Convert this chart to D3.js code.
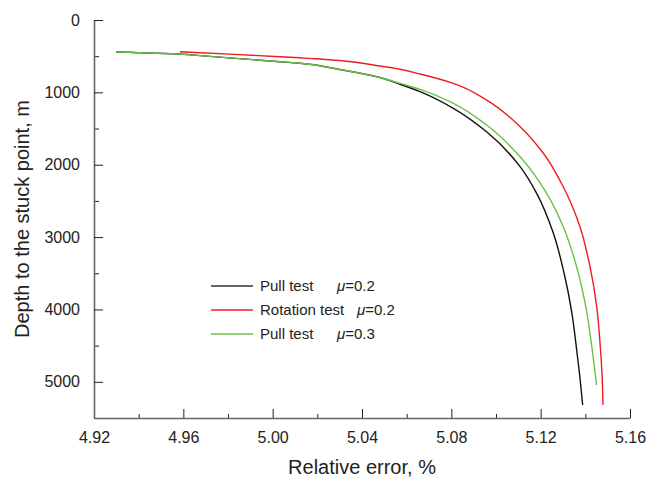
<!DOCTYPE html>
<html>
<head>
<meta charset="utf-8">
<script src="https://cdn.jsdelivr.net/npm/d3@7"></script>
<style>
  body { margin: 0; background: #fff; }
  text { font-family: "Liberation Sans", Arial, sans-serif; fill: #222; }
</style>
</head>
<body>
<div id="chart"></div>
<script>
// chart size
var w = 659;
var h = 481;

// depth (m) vs relative error (%) for each test
var pull02Err = [4.9299, 4.9585, 4.9675, 5.0033, 5.0122, 5.030, 5.048, 5.057, 5.0660, 5.0809, 5.0958, 5.1108, 5.1182, 5.1257, 5.1305, 5.1340, 5.1363, 5.1377, 5.1388];
var pull02Dep = [442, 470, 493, 576, 598, 684, 795, 888, 991, 1220, 1544, 2027, 2395, 2948, 3500, 4053, 4606, 4975, 5320];

var rot02Err = [4.9585, 4.9675, 5.0033, 5.030, 5.048, 5.057, 5.0660, 5.0809, 5.0958, 5.1108, 5.1212, 5.1301, 5.1376, 5.1421, 5.1451, 5.1467, 5.1476, 5.1479];
var rot02Dep = [438, 452, 507, 560, 636, 681, 746, 875, 1106, 1474, 1842, 2304, 2856, 3409, 3962, 4515, 4975, 5320];

var pull03Err = [4.9299, 4.9585, 4.9675, 5.0033, 5.0122, 5.030, 5.048, 5.057, 5.0660, 5.0809, 5.0958, 5.1108, 5.1227, 5.1301, 5.1361, 5.1402, 5.1429, 5.1444, 5.1450];
var pull03Dep = [442, 470, 493, 576, 598, 684, 795, 875, 958, 1151, 1451, 1889, 2395, 2856, 3409, 3962, 4515, 4880, 5044];

var seriesNames = ["Pull test", "Rotation test", "Pull test"];
var seriesMu = ["0.2", "0.2", "0.3"];
var seriesColors = ["#111111", "#ee1c25", "#6cc04a"];

var xMajor = [4.92, 4.96, 5.00, 5.04, 5.08, 5.12, 5.16];
var xMinor = [4.94, 4.98, 5.02, 5.06, 5.10, 5.14];
var yMajor = [0, 1000, 2000, 3000, 4000, 5000];
var yMinor = [500, 1500, 2500, 3500, 4500, 5500];

var svg = d3.select("#chart")
    .append("svg")
    .attr("width", w)
    .attr("height", h);

var x = d3.scaleLinear().domain([4.92, 5.16]).range([94, 630]);
var y = d3.scaleLinear().domain([0, 5500]).range([20, 418]);

// minor ticks first so the axis line sits on top
svg.append("g")
    .attr("transform", "translate(0," + y(5500) + ")")
    .call(d3.axisBottom(x).tickValues(xMinor).tickSize(-4).tickFormat(""))
    .call(function(g) { g.select(".domain").remove(); });

svg.append("g")
    .attr("transform", "translate(" + x(4.92) + ",0)")
    .call(d3.axisLeft(y).tickValues(yMinor).tickSize(-5).tickFormat(""))
    .call(function(g) { g.select(".domain").remove(); });

var xAxis = svg.append("g")
    .attr("transform", "translate(0," + y(5500) + ")")
    .call(d3.axisBottom(x).tickValues(xMajor).tickSize(-9).tickSizeOuter(0).tickPadding(14).tickFormat(d3.format(".2f")));

var yAxis = svg.append("g")
    .attr("transform", "translate(" + x(4.92) + ",0)")
    .call(d3.axisLeft(y).tickValues(yMajor).tickSize(-9).tickSizeOuter(0).tickPadding(14).tickFormat(d3.format("d")));

[xAxis, yAxis].forEach(function(g) {
    g.select(".domain").attr("stroke", "#666").attr("stroke-width", 1.6);
    g.selectAll(".tick text").style("font-size", "16px").attr("fill", "#222");
});
svg.selectAll(".tick line").attr("stroke", "#222");

// axis titles
svg.append("text")
    .attr("x", (x(4.92) + x(5.16)) / 2)
    .attr("y", 474)
    .attr("text-anchor", "middle")
    .style("font-size", "20px")
    .text("Relative error, %");

svg.append("text")
    .attr("transform", "translate(29," + (y(0) + y(5500)) / 2 + ") rotate(-90)")
    .attr("text-anchor", "middle")
    .style("font-size", "20px")
    .text("Depth to the stuck point, m");

// curves
var line = d3.line()
    .x(function(d) { return x(d[0]); })
    .y(function(d) { return y(d[1]); })
    .curve(d3.curveMonotoneY);

var curves = [
    d3.zip(pull02Err, pull02Dep),
    d3.zip(rot02Err, rot02Dep),
    d3.zip(pull03Err, pull03Dep)
];

svg.selectAll(".curve")
    .data(curves)
    .enter().append("path")
    .attr("class", "curve")
    .attr("d", line)
    .attr("fill", "none")
    .attr("stroke", function(d, i) { return seriesColors[i]; })
    .attr("stroke-width", 1.4);

// legend
var legend = svg.append("g").attr("class", "legend");
var muX = [337, 357, 337];
seriesNames.forEach(function(name, i) {
    var ly = 286 + i * 24;
    legend.append("line")
        .attr("x1", 211).attr("x2", 253)
        .attr("y1", ly).attr("y2", ly)
        .attr("stroke", i === 0 ? "#333" : seriesColors[i])
        .attr("stroke-width", 1.4);
    legend.append("text")
        .attr("x", 260)
        .attr("y", ly + 5)
        .style("font-size", "15px")
        .text(name);
    var t = legend.append("text")
        .attr("x", muX[i])
        .attr("y", ly + 5)
        .style("font-size", "15px");
    t.append("tspan").style("font-style", "italic").text("\u03bc");
    t.append("tspan").text("=" + seriesMu[i]);
});
</script>
</body>
</html>
